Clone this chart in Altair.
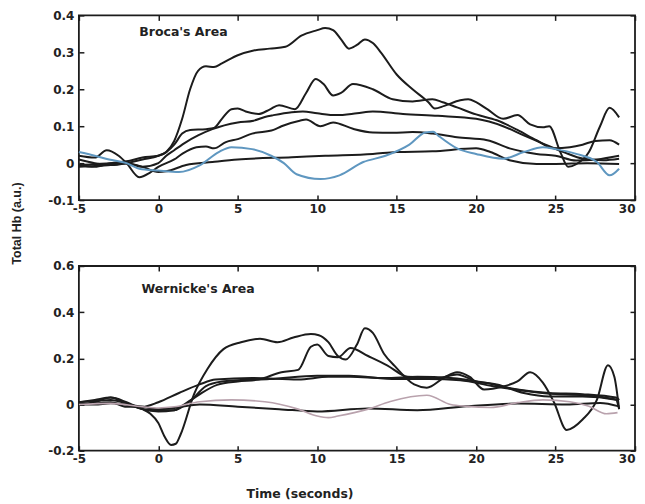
import altair as alt
import pandas as pd

# ---------------- data ----------------
x_ticks = [-5, 0, 5, 10, 15, 20, 25, 30]
broca_y_ticks = [-0.1, 0, 0.1, 0.2, 0.3, 0.4]
wern_y_ticks = [-0.2, 0, 0.2, 0.4, 0.6]

# Broca's Area
broca_a_t = [-5, -4, -3, -2, -1, 0, 0.5, 1, 1.5, 2, 2.5, 3, 3.5, 4, 5, 6, 7, 8, 9, 10, 10.5, 11, 11.5, 12, 12.5, 13, 13.5, 14, 15, 16, 17, 17.4, 18, 19, 19.5, 20, 20.7, 21.7, 22.6, 23.4, 24.2, 24.6, 25.3, 25.8, 26.3, 27.1, 27.8, 28.4, 29]
broca_a_v = [-0.005, -0.01, 0.0, 0.005, 0.015, 0.02, 0.03, 0.06, 0.12, 0.2, 0.25, 0.262, 0.26, 0.27, 0.292, 0.305, 0.31, 0.315, 0.345, 0.36, 0.366, 0.36, 0.335, 0.31, 0.32, 0.335, 0.325, 0.3, 0.24, 0.2, 0.165, 0.148, 0.155, 0.17, 0.173, 0.165, 0.146, 0.12, 0.13, 0.105, 0.097, 0.1, 0.03, -0.01, -0.003, 0.03, 0.1, 0.15, 0.124]

broca_b_t = [-5, -4, -3, -2, -1, 0, 0.5, 1, 1.5, 2, 3, 3.5, 4, 4.6, 5, 5.5, 6.3, 7, 7.6, 8.6, 9.3, 9.9, 10.4, 11, 11.5, 12.25, 13.5, 14.75, 16, 17.25, 17.9, 18.8, 20, 21.3, 22.6, 23.8, 24.9, 25.9, 26.7, 27.5, 28.4, 29]
broca_b_v = [0.01, 0.0, -0.005, 0.0, 0.01, 0.02, 0.03, 0.05, 0.08, 0.09, 0.092, 0.095, 0.12, 0.146, 0.148, 0.14, 0.133, 0.145, 0.157, 0.146, 0.19, 0.228, 0.214, 0.183, 0.19, 0.214, 0.2, 0.173, 0.167, 0.173, 0.165, 0.151, 0.132, 0.116, 0.09, 0.062, 0.04, 0.043, 0.05, 0.06, 0.062, 0.05]

broca_c_t = [-5, -4, -3, -2, -1, 0, 0.5, 1, 1.75, 2.5, 3.4, 5, 6, 6.7, 7.25, 8.4, 9.1, 10, 11.2, 12.5, 13.5, 15.4, 17.6, 20, 21.7, 23, 24.25, 25.5, 26.75, 28, 29]
broca_c_v = [-0.005, -0.003, 0.0, 0.0, -0.01, 0.0, 0.02, 0.035, 0.057, 0.075, 0.092, 0.11, 0.115, 0.125, 0.13, 0.138, 0.14, 0.135, 0.13, 0.135, 0.14, 0.133, 0.128, 0.12, 0.1, 0.075, 0.052, 0.03, 0.012, 0.008, 0.012]

broca_d_t = [-5, -4, -3.25, -2.5, -2, -1.2, -0.5, 0, 1, 1.5, 2.4, 3, 3.5, 4.25, 5, 5.9, 7.25, 7.75, 8.9, 9.3, 10.2, 11, 12.25, 13.5, 14.75, 16, 17.25, 18.8, 20.7, 22.1, 23.8, 25, 26.3, 27.6, 29]
broca_d_v = [0.02, 0.015, 0.035, 0.02, 0.0, -0.038, -0.025, -0.01, 0.01, 0.025, 0.043, 0.045, 0.04, 0.057, 0.065, 0.08, 0.09, 0.1, 0.115, 0.118, 0.1, 0.11, 0.093, 0.083, 0.082, 0.084, 0.08, 0.07, 0.062, 0.04, 0.025, 0.02, 0.007, 0.01, 0.02]

broca_e_t = [-5, -4, -3, -2, -1, 0, 0.5, 1.75, 3.4, 5, 8.4, 10.5, 13.5, 15, 17.25, 20, 20.9, 22.1, 23.8, 25, 27, 29]
broca_e_v = [-0.01, -0.008, -0.005, 0.0, -0.01, -0.024, -0.022, -0.005, 0.003, 0.01, 0.016, 0.02, 0.025, 0.03, 0.032, 0.04, 0.03, 0.008, -0.002, -0.002, 0.0, -0.002]

broca_blue_t = [-5, -4, -3.1, -2, -1.2, 0, 1.3, 2.6, 3.8, 4.6, 5.9, 7.1, 7.9, 8.7, 10.2, 11.4, 12.9, 14.3, 15.8, 16.8, 17.3, 17.6, 18.8, 20, 21.7, 23, 24.2, 25, 26.3, 27.6, 28.4, 29]
broca_blue_v = [0.03, 0.02, 0.01, 0.0, -0.015, -0.02, -0.024, -0.006, 0.03, 0.043, 0.038, 0.02, 0.0, -0.03, -0.043, -0.033, 0.003, 0.02, 0.05, 0.083, 0.085, 0.075, 0.04, 0.025, 0.012, 0.03, 0.043, 0.038, 0.025, 0.003, -0.033, -0.015]

# Wernicke's Area
wern_1_t = [-5, -4, -3, -2.5, -2, -1, -0.5, 0, 0.4, 0.8, 1.1, 1.4, 2.25, 3.1, 4.1, 5.2, 6.4, 7.5, 8.5, 9.6, 10.1, 10.7, 11.3, 11.8, 12.5, 13, 13.5, 14.2, 14.9, 16.1, 16.9, 18, 18.8, 19.6, 20.5, 21.7, 22.6, 23.4, 24.2, 24.9, 25.7, 26.7, 27.6, 28.3, 28.7, 29]
wern_1_v = [0.0, 0.01, 0.03, 0.02, 0.0, -0.02, -0.04, -0.08, -0.14, -0.175, -0.17, -0.13, 0.045, 0.155, 0.24, 0.27, 0.285, 0.27, 0.29, 0.305, 0.3, 0.27, 0.21, 0.195, 0.26, 0.33, 0.31, 0.22, 0.165, 0.087, 0.073, 0.117, 0.14, 0.12, 0.065, 0.078, 0.1, 0.14, 0.095, 0.01, -0.11, -0.065, 0.02, 0.17, 0.12, -0.02]

wern_2_t = [-5, -4, -3, -2, -1, 0, 1.3, 2.6, 3.6, 5.9, 8.8, 10.7, 12.1, 14.25, 16.3, 18.4, 20.5, 22.6, 24.6, 26.7, 28.8, 29]
wern_2_v = [0.0, 0.005, 0.01, -0.01, -0.01, 0.01, 0.05, 0.087, 0.108, 0.115, 0.108, 0.12, 0.12, 0.115, 0.12, 0.115, 0.095, 0.065, 0.05, 0.045, 0.03, 0.02]

wern_3_t = [-5, -4, -3, -2, -1, 0, 1, 1.4, 2.5, 3.7, 5, 6.3, 7.75, 8.8, 9.6, 10, 10.7, 11.3, 12.1, 13.2, 14.4, 15.7, 17.6, 18.8, 20, 21.3, 23, 24.6, 26.7, 28.8, 29]
wern_3_v = [0.01, 0.02, 0.03, 0.01, -0.02, -0.03, -0.025, -0.01, 0.04, 0.085, 0.1, 0.108, 0.14, 0.15, 0.25, 0.26, 0.21, 0.205, 0.245, 0.21, 0.17, 0.12, 0.115, 0.13, 0.1, 0.087, 0.05, 0.035, 0.035, 0.02, -0.02]

wern_4_t = [-5, -4, -3, -2, -1, 0, 1, 2, 3, 4, 5, 7, 10, 12, 15, 17, 19, 21, 23, 25, 27, 29]
wern_4_v = [0.01, 0.015, 0.02, 0.005, -0.02, -0.025, -0.025, 0.015, 0.08, 0.1, 0.105, 0.11, 0.125, 0.125, 0.11, 0.11, 0.105, 0.08, 0.06, 0.045, 0.04, 0.02]

wern_5_t = [-5, -4, -3, -2, -1, 0, 1, 2.6, 5, 7.6, 10, 13.2, 16.3, 19.4, 22.6, 25.7, 27.8, 29]
wern_5_v = [0.0, 0.0, 0.005, 0.0, -0.01, -0.02, -0.015, 0.0, -0.01, -0.02, -0.03, -0.017, -0.025, -0.008, 0.004, 0.0, 0.007, -0.008]

wern_pink_t = [-5, -3, -1, 0, 1, 2.6, 4.6, 6.7, 8.8, 10, 10.7, 11.3, 13.2, 14.6, 16.9, 18.4, 19.4, 20.9, 22.6, 24.2, 25.9, 27.1, 28.2, 28.9]
wern_pink_v = [0.0, 0.005, -0.01, -0.015, -0.01, 0.012, 0.02, 0.012, -0.02, -0.05, -0.057, -0.05, -0.02, 0.013, 0.04, 0.0, -0.008, -0.013, 0.008, 0.02, 0.012, -0.008, -0.04, -0.035]

panel_labels = ["Broca's Area", "Wernicke's Area"]
panel_label_t = [-1.2, -1.06]
panel_label_v = [0.354, 0.50]

BLACK = "#1c1c1c"
BLUE = "#5f97c0"
PINK = "#b9a2ad"


def build(series):
    rows = []
    for name, ts, vs, col, w in series:
        for t, v in zip(ts, vs):
            rows.append({"series": name, "t": t, "v": v, "col": col, "w": w})
    return pd.DataFrame(rows)


broca_df = build([
    ("A", broca_a_t, broca_a_v, BLACK, 2.0),
    ("B", broca_b_t, broca_b_v, BLACK, 2.0),
    ("C", broca_c_t, broca_c_v, BLACK, 2.0),
    ("D", broca_d_t, broca_d_v, BLACK, 2.0),
    ("E", broca_e_t, broca_e_v, BLACK, 2.0),
    ("F", broca_blue_t, broca_blue_v, BLUE, 2.0),
])
wern_df = build([
    ("A", wern_1_t, wern_1_v, BLACK, 2.0),
    ("B", wern_2_t, wern_2_v, BLACK, 2.0),
    ("C", wern_3_t, wern_3_v, BLACK, 2.0),
    ("D", wern_4_t, wern_4_v, BLACK, 2.0),
    ("E", wern_5_t, wern_5_v, BLACK, 2.0),
    ("F", wern_pink_t, wern_pink_v, PINK, 1.6),
])
broca_lab = pd.DataFrame({"label": [panel_labels[0]], "t": [panel_label_t[0]], "v": [panel_label_v[0]]})
wern_lab = pd.DataFrame({"label": [panel_labels[1]], "t": [panel_label_t[1]], "v": [panel_label_v[1]]})

W, H = 557, 185
xscale = alt.Scale(domain=[-5, 30], nice=False, zero=False)
LABEL_EXPR = "'' + datum.value"
X_LABEL_ALIGN = {"condition": {"test": "datum.value == 30", "value": "right"}, "value": "center"}


def panel(df, lab, ydomain, yticks, xtitle, ytitle):
    yscale = alt.Scale(domain=ydomain, nice=False, zero=False)
    x_axis_kw = dict(orient="bottom", values=x_ticks, offset=-5, tickSize=5, domain=False,
                     grid=False, labelPadding=3, labelExpr=LABEL_EXPR, labelFlush=False,
                     labelOverlap=False, labelAlign=X_LABEL_ALIGN)
    if xtitle:
        x_axis_kw.update(title=xtitle, titleX=221, titleY=48, titleBaseline="middle",
                         titleFont="DejaVu Sans", titleFontSize=12.5, titleFontWeight="bold",
                         titleColor="#222222")
    else:
        x_axis_kw.update(title=None)
    y_axis_kw = dict(orient="left", values=yticks, offset=-5, tickSize=5, domain=False,
                     grid=False, labelPadding=5, labelExpr=LABEL_EXPR, labelFlush=False,
                     labelOverlap=False)
    if ytitle:
        y_axis_kw.update(title=ytitle, titleX=-67, titleY=208, titleAngle=270,
                         titleBaseline="middle", titleFont="Liberation Sans", titleFontSize=12.5,
                         titleFontWeight="bold", titleColor="#222222")
    else:
        y_axis_kw.update(title=None)

    lines = alt.Chart(df).mark_line(interpolate="monotone").encode(
        x=alt.X("t:Q", scale=xscale, axis=alt.Axis(**x_axis_kw)),
        y=alt.Y("v:Q", scale=yscale, axis=alt.Axis(**y_axis_kw)),
        color=alt.Color("col:N", scale=None),
        strokeWidth=alt.StrokeWidth("w:Q", scale=None),
        detail="series:N",
    )
    text = alt.Chart(lab).mark_text(
        align="left", baseline="middle", font="DejaVu Sans", fontWeight="bold",
        fontSize=12.5, color="#222222",
    ).encode(
        x=alt.X("t:Q", scale=xscale,
                axis=alt.Axis(orient="top", values=x_ticks, labels=False, title=None, offset=-5,
                              tickSize=5, domain=False, grid=False)),
        y=alt.Y("v:Q", scale=yscale,
                axis=alt.Axis(orient="right", values=yticks, labels=False, title=None, offset=-5,
                              tickSize=5, domain=False, grid=False)),
        text="label:N",
    )
    return alt.layer(lines, text).resolve_axis(x="independent", y="independent").properties(
        width=W, height=H)


top = panel(broca_df, broca_lab, [-0.1, 0.4], broca_y_ticks, None, "Total Hb (a.u.)")
bottom = panel(wern_df, wern_lab, [-0.2, 0.6], wern_y_ticks, "Time (seconds)", None)

chart = alt.vconcat(top, bottom, spacing=66, bounds="flush").properties(
    padding={"left": 2, "top": 0, "right": 0, "bottom": 0}
).configure_view(
    stroke="#1c1c1c", strokeWidth=1.8
).configure_axis(
    labelFont="DejaVu Sans", labelFontSize=12, labelFontWeight="bold", labelColor="#222222",
    tickColor="#1c1c1c", tickWidth=1.5,
)

chart.save("out.html", embed_options={"renderer": "svg", "actions": False})
